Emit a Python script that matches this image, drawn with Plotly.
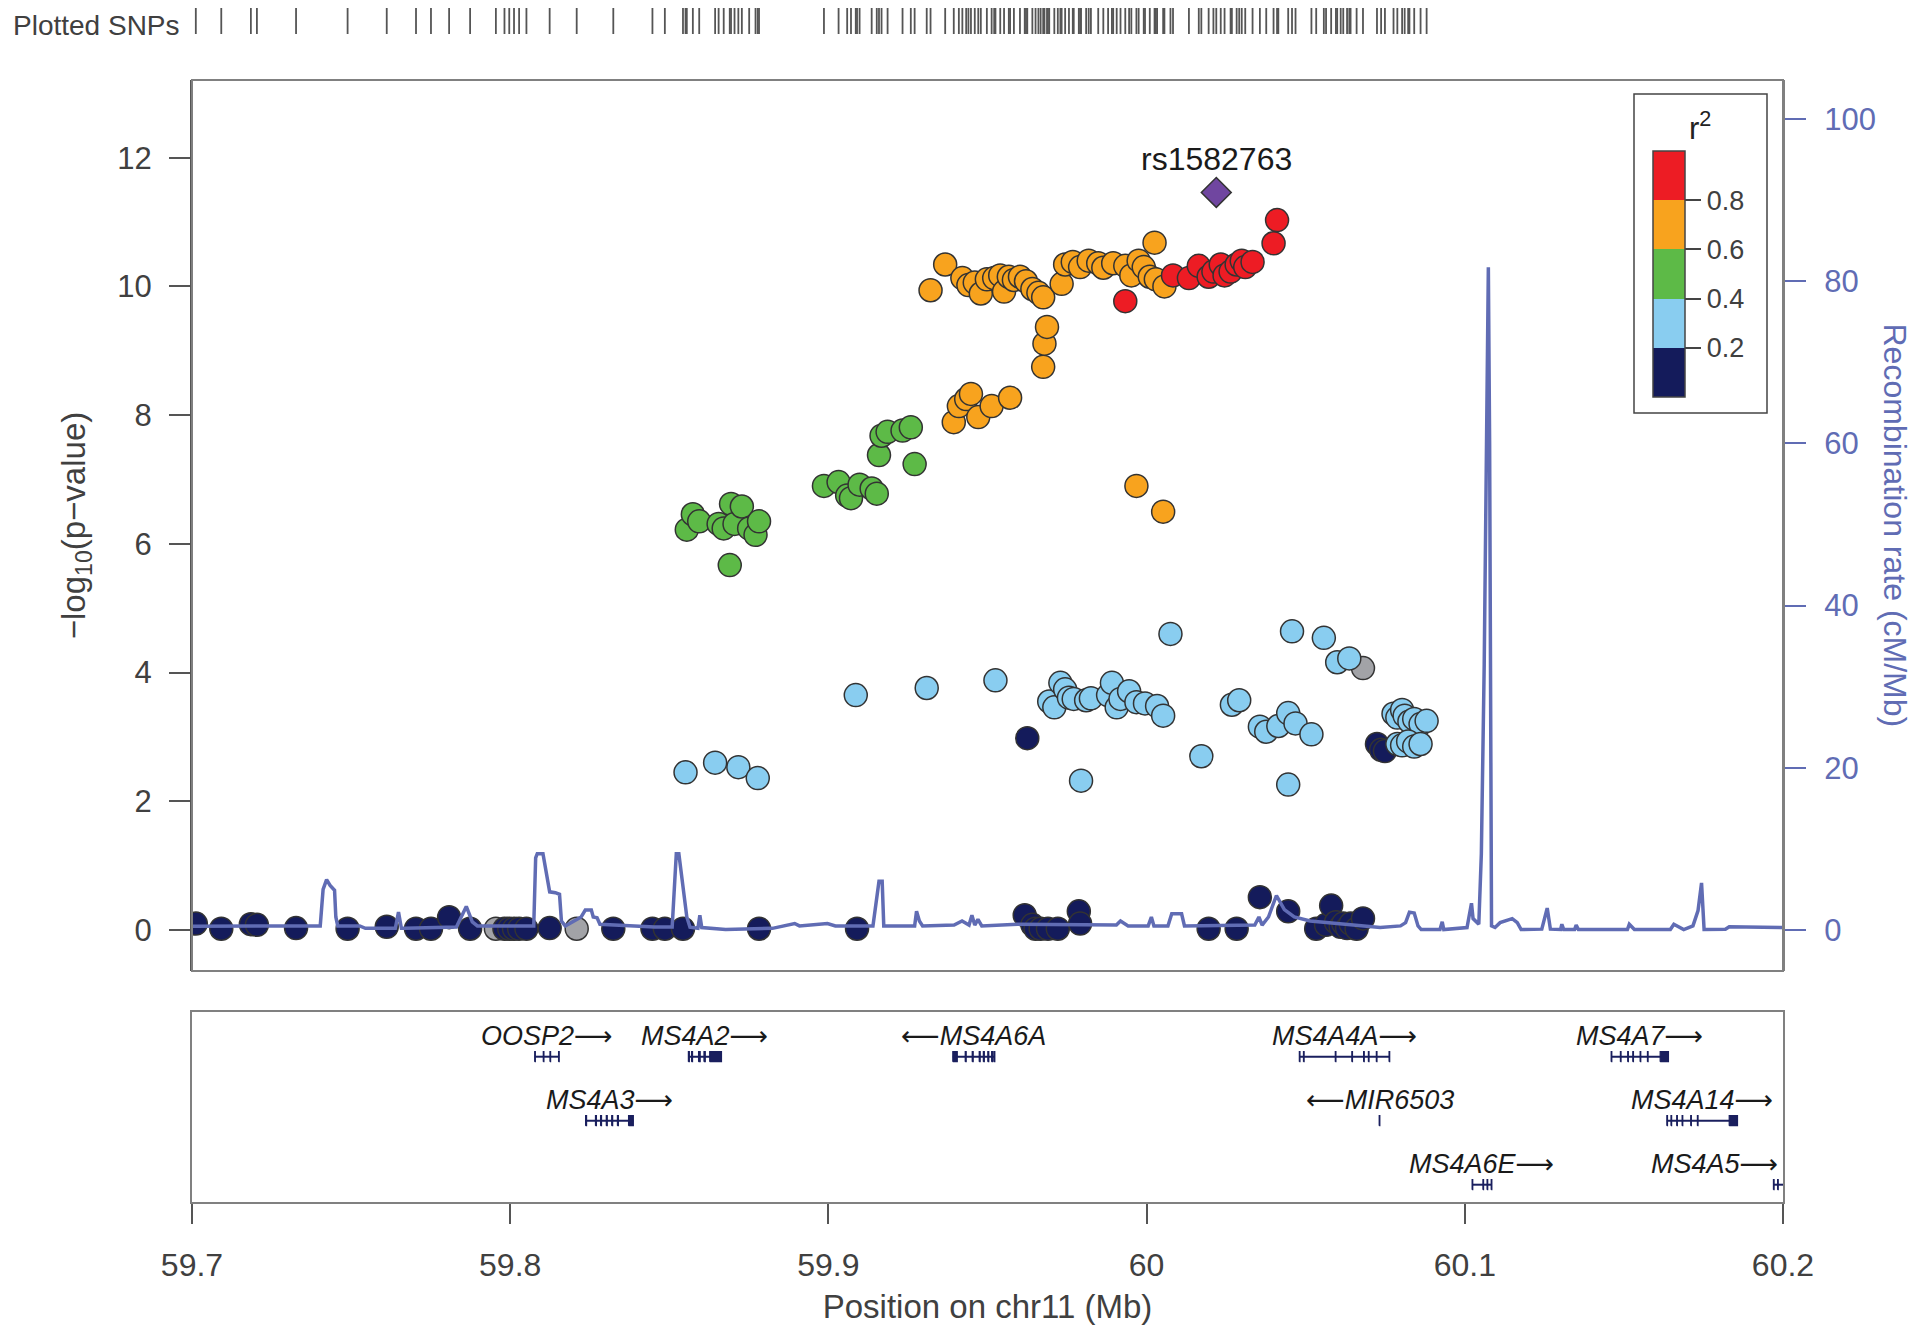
import plotly.graph_objects as go

# ------------------------------------------------------------------ data
# SNPs by LD bin with the lead SNP (position in Mb, -log10 p)
navy_pos = [59.7012, 59.7092, 59.7185, 59.7204, 59.7327, 59.7489, 59.7612, 59.7704, 59.7751,
            59.7808, 59.7874, 59.7982, 59.7997, 59.8012, 59.8028, 59.8051, 59.8124, 59.8324,
            59.8447, 59.8486, 59.8543, 59.8782, 59.9090, 59.9617, 59.9625, 59.9641, 59.9651,
            59.9667, 59.9690, 59.9721, 59.9787, 59.9791, 60.0195, 60.0283, 60.0356, 60.0445,
            60.0533, 60.0564, 60.0580, 60.0595, 60.0610, 60.0618, 60.0630, 60.0641, 60.0660,
            60.0680, 60.0724, 60.0737, 60.0749]
navy_logp = [0.10, 0.02, 0.09, 0.08, 0.03, 0.02, 0.05, 0.02, 0.02,
             0.20, 0.02, 0.02, 0.02, 0.02, 0.02, 0.02, 0.03, 0.02,
             0.02, 0.02, 0.02, 0.02, 0.02, 0.23, 2.98, 0.08, 0.02,
             0.02, 0.02, 0.02, 0.29, 0.10, 0.02, 0.02, 0.51, 0.29,
             0.02, 0.08, 0.38, 0.12, 0.05, 0.10, 0.03, 0.10, 0.02,
             0.18, 2.89, 2.80, 2.78]

lblue_pos = [59.8551, 59.8644, 59.8717, 59.8778, 59.9086, 59.9309, 59.9525, 59.9694, 59.9710,
             59.9729, 59.9744, 59.9756, 59.9771, 59.9794, 59.9810, 59.9825, 59.9879, 59.9891,
             59.9906, 59.9918, 59.9945, 59.9968, 59.9995, 60.0033, 60.0052, 60.0075, 60.0172,
             60.0268, 60.0291, 60.0356, 60.0376, 60.0414, 60.0445, 60.0445, 60.0457, 60.0468,
             60.0518, 60.0557, 60.0599, 60.0637, 60.0776, 60.0788, 60.0803, 60.0811, 60.0826,
             60.0841, 60.0861, 60.0880, 60.0788, 60.0803, 60.0822, 60.0841, 60.0861]
lblue_logp = [2.45, 2.60, 2.53, 2.36, 3.65, 3.76, 3.88, 3.55, 3.46,
              3.84, 3.74, 3.61, 3.59, 2.32, 3.57, 3.60, 3.65, 3.84,
              3.46, 3.59, 3.71, 3.54, 3.52, 3.48, 3.33, 4.60, 2.70,
              3.50, 3.57, 3.16, 3.08, 3.17, 3.37, 2.26, 4.64, 3.21,
              3.04, 4.54, 4.16, 4.22, 3.36, 3.30, 3.42, 3.33, 3.24,
              3.28, 3.20, 3.25, 2.89, 2.87, 2.93, 2.85, 2.89]

green_pos = [59.8555, 59.8574, 59.8594, 59.8655, 59.8671, 59.8690, 59.8694, 59.8705, 59.8728,
             59.8751, 59.8771, 59.8782, 59.8986, 59.9032, 59.9059, 59.9071, 59.9098, 59.9136,
             59.9152, 59.9159, 59.9167, 59.9186, 59.9233, 59.9259, 59.9271]
green_logp = [6.22, 6.46, 6.35, 6.31, 6.24, 5.67, 6.62, 6.31, 6.58,
              6.24, 6.14, 6.35, 6.90, 6.96, 6.75, 6.71, 6.92, 6.86,
              6.78, 7.38, 7.68, 7.74, 7.76, 7.81, 7.24]

orange_pos = [59.9321, 59.9367, 59.9394, 59.9410, 59.9421, 59.9433, 59.9440, 59.9448, 59.9460,
              59.9471, 59.9479, 59.9498, 59.9513, 59.9521, 59.9540, 59.9552, 59.9567, 59.9571,
              59.9583, 59.9602, 59.9621, 59.9641, 59.9660, 59.9675, 59.9675, 59.9679, 59.9687,
              59.9733, 59.9744, 59.9768, 59.9791, 59.9818, 59.9848, 59.9864, 59.9895, 59.9933,
              59.9952, 59.9968, 59.9975, 59.9991, 60.0010, 60.0025, 60.0029, 60.0052, 60.0056]
orange_logp = [9.94, 10.34, 7.89, 8.14, 10.13, 8.25, 10.02, 8.33, 10.06,
               7.97, 9.89, 10.11, 8.14, 10.13, 10.17, 9.92, 10.15, 8.27,
               10.10, 10.15, 10.08, 9.96, 9.90, 9.83, 8.75, 9.11, 9.37,
               10.04, 10.34, 10.38, 10.30, 10.40, 10.36, 10.29, 10.36, 10.32,
               10.17, 6.90, 10.40, 10.30, 10.15, 10.68, 10.11, 6.50, 10.00]

red_pos = [59.9933, 60.0083, 60.0133, 60.0164, 60.0195, 60.0210, 60.0233, 60.0245, 60.0264,
           60.0283, 60.0299, 60.0310, 60.0333, 60.0399, 60.0410]
red_logp = [9.77, 10.17, 10.13, 10.32, 10.15, 10.23, 10.34, 10.17, 10.23,
            10.34, 10.40, 10.30, 10.38, 10.67, 11.03]

grey_pos = [59.7955, 59.8209, 60.0680]
grey_logp = [0.02, 0.02, 4.07]

lead_snp = "rs1582763"
lead_pos = 60.0219
lead_logp = 11.46

# LD bins: representative r2 of each bin, and colours
bin_r2 = [0.1, 0.3, 0.5, 0.7, 0.9]
bin_colors = ["#141B5B", "#89CDF0", "#5DBA47", "#F8A31E", "#ED1C24"]
r2_ticks = [0.2, 0.4, 0.6, 0.8]

# recombination rate (position Mb, cM/Mb)
rec_pos = [59.7000, 59.7403, 59.7412, 59.7423, 59.7434, 59.7448, 59.7452, 59.7458, 59.7527,
           59.7545, 59.7608, 59.7639, 59.7649, 59.7658, 59.7670, 59.7831, 59.7862, 59.7881,
           59.7897, 59.8074, 59.8080, 59.8085, 59.8103, 59.8124, 59.8142, 59.8155, 59.8161,
           59.8173, 59.8223, 59.8236, 59.8255, 59.8261, 59.8273, 59.8282, 59.8453, 59.8509,
           59.8522, 59.8530, 59.8555, 59.8565, 59.8590, 59.8596, 59.8602, 59.8677, 59.8824,
           59.8894, 59.8909, 59.8997, 59.9022, 59.9140, 59.9159, 59.9169, 59.9174, 59.9271,
           59.9277, 59.9286, 59.9296, 59.9395, 59.9420, 59.9442, 59.9451, 59.9460, 59.9470,
           59.9482, 59.9594, 59.9905, 59.9918, 59.9942, 60.0005, 60.0015, 60.0023, 60.0067,
           60.0079, 60.0110, 60.0119, 60.0340, 60.0353, 60.0363, 60.0383, 60.0408, 60.0433,
           60.0464, 60.0514, 60.0734, 60.0798, 60.0814, 60.0826, 60.0841, 60.0853, 60.0863,
           60.0922, 60.0929, 60.0934, 60.1007, 60.1021, 60.1026, 60.1044, 60.1052, 60.1061,
           60.1069, 60.1074, 60.1078, 60.1084, 60.1095, 60.1111, 60.1149, 60.1165, 60.1177,
           60.1242, 60.1259, 60.1269, 60.1301, 60.1305, 60.1311, 60.1345, 60.1350, 60.1357,
           60.1511, 60.1517, 60.1533, 60.1646, 60.1657, 60.1679, 60.1688, 60.1717, 60.1733,
           60.1744, 60.1752, 60.1819, 60.1831, 60.2004]
rec_rate = [0.45, 0.5, 5.0, 6.2, 5.5, 4.9, 1.6, 0.5, 0.5,
            0.2, 0.2, 0.2, 2.2, 0.2, 0.2, 0.35, 2.9, 1.0,
            0.5, 0.5, 8.9, 9.4, 9.4, 4.7, 4.6, 4.4, 1.1,
            0.5, 1.6, 2.45, 2.45, 1.6, 1.5, 0.7, 0.35, 0.35,
            9.4, 9.4, 1.6, 0.35, 0.2, 1.8, 0.3, 0.05, 0.2,
            0.8, 0.5, 0.8, 0.5, 0.5, 6.0, 6.0, 0.5, 0.5,
            2.3, 1.1, 0.5, 0.6, 1.1, 0.6, 1.8, 0.6, 1.3,
            0.5, 0.7, 0.6, 1.1, 0.5, 0.5, 1.6, 0.5, 0.5,
            2.0, 2.0, 0.5, 0.6, 1.6, 0.6, 1.6, 4.25, 2.5,
            1.6, 1.1, 0.3, 0.5, 0.9, 2.2, 2.1, 0.5, 0.05,
            0.05, 1.0, 0.05, 0.3, 3.3, 1.4, 0.7, 9.4, 32.7,
            60.0, 81.7, 60.0, 0.5, 0.3, 0.9, 1.4, 0.9, 0.05,
            0.1, 2.7, 0.1, 0.05, 0.7, 0.05, 0.05, 0.6, 0.05,
            0.05, 0.7, 0.05, 0.05, 0.7, 0.3, 0.05, 0.5, 2.4,
            5.8, 0.05, 0.1, 0.4, 0.3]

# genes
gene_names = ["OOSP2", "MS4A2", "MS4A6A", "MS4A4A", "MS4A7", "MS4A3", "MIR6503", "MS4A14",
              "MS4A6E", "MS4A5"]
gene_strand = ["+", "+", "-", "+", "+", "+", "-", "+", "+", "+"]
gene_row = [0, 0, 0, 0, 0, 1, 1, 1, 2, 2]
gene_start = [59.8077, 59.8560, 59.9391, 60.0480, 60.1460, 59.8237, 60.0731, 60.1635,
              60.1023, 60.1970]
gene_end = [59.8154, 59.8664, 59.9523, 60.0764, 60.1640, 59.8387, 60.0733, 60.1857,
            60.1085, 60.2050]
gene_exons = [
    [(59.8077, 59.8079), (59.8104, 59.8106), (59.8125, 59.8127), (59.8152, 59.8154)],
    [(59.8560, 59.8563), (59.8570, 59.8573), (59.8592, 59.8597), (59.8609, 59.8613),
     (59.8627, 59.8664)],
    [(59.9391, 59.9405), (59.9430, 59.9433), (59.9452, 59.9455), (59.9474, 59.9477),
     (59.9487, 59.9490), (59.9501, 59.9504), (59.9513, 59.9516), (59.9520, 59.9523)],
    [(60.0480, 60.0482), (60.0493, 60.0495), (60.0593, 60.0595), (60.0645, 60.0647),
     (60.0682, 60.0684), (60.0697, 60.0699), (60.0722, 60.0724), (60.0762, 60.0764)],
    [(60.1460, 60.1462), (60.1489, 60.1491), (60.1512, 60.1514), (60.1528, 60.1530),
     (60.1551, 60.1553), (60.1574, 60.1576), (60.1614, 60.1640)],
    [(59.8237, 59.8240), (59.8268, 59.8271), (59.8284, 59.8287), (59.8302, 59.8305),
     (59.8319, 59.8322), (59.8337, 59.8340), (59.8372, 59.8387)],
    [(60.0731, 60.0733)],
    [(60.1635, 60.1637), (60.1648, 60.1650), (60.1666, 60.1668), (60.1683, 60.1685),
     (60.1710, 60.1712), (60.1731, 60.1733), (60.1831, 60.1857)],
    [(60.1023, 60.1025), (60.1057, 60.1059), (60.1070, 60.1072), (60.1083, 60.1085)],
    [(60.1970, 60.1972), (60.1983, 60.1985), (60.2030, 60.2050)],
]

x_ticks = [59.7, 59.8, 59.9, 60.0, 60.1, 60.2]
x_ticklabels = ["59.7", "59.8", "59.9", "60", "60.1", "60.2"]
y_ticks = [0, 2, 4, 6, 8, 10, 12]
rec_ticks = [0, 20, 40, 60, 80, 100]

# ------------------------------------------------------------------ style / layout
FONT = "Liberation Sans, Arial, Helvetica, sans-serif"
TXT = "#404040"
REC = "#606CB4"
FRAME = "#808080"
XMIN, XMAX = 59.7, 60.2
OFF = 8                      # default page margin of the html body
W, H = 1920 - 2 * OFF, 1333 - 2 * OFF
PLOT_L, PLOT_R, PLOT_B = 192, 1783, 1202   # page pixels of the plotting area
ML = PLOT_L - OFF
MR = W - (PLOT_R - OFF)
MT = 0
MB = H - (PLOT_B - OFF)
PH = H - MT - MB
PW = W - ML - MR


def py(px):  # page y pixel -> paper coordinate
    return min(1.0, max(0.0, 1 - (px - OFF - MT) / PH))


def pxx(px):  # page x pixel -> paper coordinate
    return (px - OFF - ML) / PW


colorscale = []
edges = [0.0, 0.2, 0.4, 0.6, 0.8, 1.0]
for i, c in enumerate(bin_colors):
    colorscale.append([edges[i], c])
    colorscale.append([edges[i + 1], c])

CB_TOP, CB_BOT, CB_L, CB_W = 151, 397, 1653, 32

fig = go.Figure()

# recombination rate
fig.add_trace(go.Scatter(x=rec_pos, y=rec_rate, mode="lines", xaxis="x", yaxis="y2",
                         line=dict(color=REC, width=3.5), hoverinfo="skip", showlegend=False))

# SNPs
outline = dict(color="#333333", width=1.5)
fig.add_trace(go.Scatter(x=grey_pos, y=grey_logp, mode="markers", xaxis="x", yaxis="y",
                         marker=dict(size=23, color="#A2A3A7", line=outline), showlegend=False))
bins = [(navy_pos, navy_logp), (lblue_pos, lblue_logp), (green_pos, green_logp),
        (orange_pos, orange_logp), (red_pos, red_logp)]
for i, (xs, ys) in enumerate(bins):
    last = i == len(bins) - 1
    mk = dict(size=23, color=[bin_r2[i]] * len(xs), colorscale=colorscale, cmin=0, cmax=1,
              line=outline, showscale=last)
    if last:
        mk["colorbar"] = dict(
            x=pxx(CB_L), xanchor="left", xpad=0, y=(py(CB_TOP) + py(CB_BOT)) / 2,
            yanchor="middle", ypad=0, len=CB_BOT - CB_TOP, lenmode="pixels",
            thickness=CB_W, thicknessmode="pixels",
            outlinecolor="#444444", outlinewidth=1.5, tickvals=r2_ticks,
            ticktext=[f"{t:.1f}" for t in r2_ticks], ticks="outside", ticklen=16,
            tickwidth=1.5, tickcolor="#444444", tickfont=dict(size=27, color=TXT, family=FONT),
            bgcolor="rgba(0,0,0,0)")
    fig.add_trace(go.Scatter(x=xs, y=ys, mode="markers", xaxis="x", yaxis="y", marker=mk,
                             showlegend=False))
fig.add_trace(go.Scatter(x=[lead_pos], y=[lead_logp], mode="markers", xaxis="x", yaxis="y",
                         marker=dict(symbol="diamond", size=23, color="#7046A0", line=outline),
                         showlegend=False))

# plotted SNP rug
all_pos = sorted(set(navy_pos + lblue_pos + green_pos + orange_pos + red_pos + grey_pos + [lead_pos]))
rx, ry = [], []
for p in all_pos:
    rx += [p, p, None]
    ry += [0, 1, None]
fig.add_trace(go.Scatter(x=rx, y=ry, mode="lines", xaxis="x", yaxis="y4",
                         line=dict(color="#555555", width=1.8), hoverinfo="skip", showlegend=False))

# genes (y3 in pixels above the panel bottom)
ROW0, ROWSTEP, EXH = 145.3, 64, 5
ARROW_R = '<span style="font-family:DejaVu Sans">⟶</span>'
ARROW_L = '<span style="font-family:DejaVu Sans">⟵</span>'
ix, iy, ex, ey = [], [], [], []
annotations = []
for name, strand, row, s, e, exons in zip(gene_names, gene_strand, gene_row, gene_start,
                                          gene_end, gene_exons):
    yc = ROW0 - ROWSTEP * row
    ix += [s, e, None]
    iy += [yc, yc, None]
    for a, b in exons:
        ex += [a, b, b, a, a, None]
        ey += [yc - EXH, yc - EXH, yc + EXH, yc + EXH, yc - EXH, None]
    label = f"<i>{name}</i>{ARROW_R}" if strand == "+" else f"{ARROW_L}<i>{name}</i>"
    center = (s + e) / 2
    half = (len(name) + 1.3) * 16.5 / 2 * (XMAX - XMIN) / PW
    if center + half > XMAX:
        lx, anc = XMAX - 0.0010, "right"
    else:
        lx, anc = center, "center"
    annotations.append(dict(x=lx, y=yc + 21.5, xref="x", yref="y3", text=label, showarrow=False,
                            xanchor=anc, yanchor="middle",
                            font=dict(size=27, color="#1a1a1a", family=FONT)))
fig.add_trace(go.Scatter(x=ix, y=iy, mode="lines", xaxis="x", yaxis="y3",
                         line=dict(color="#1A1F5E", width=2), hoverinfo="skip", showlegend=False))
fig.add_trace(go.Scatter(x=ex, y=ey, mode="lines", fill="toself", fillcolor="#1A1F5E",
                         xaxis="x", yaxis="y3", line=dict(color="#1A1F5E", width=1.2),
                         hoverinfo="skip", showlegend=False))

# lead SNP label
annotations.append(dict(x=lead_pos, y=lead_logp, xref="x", yref="y", text=lead_snp,
                        showarrow=False, yshift=33, xanchor="center", yanchor="middle",
                        font=dict(size=32, color="#1a1a1a", family=FONT)))
# Plotted SNPs label
annotations.append(dict(x=pxx(182), y=py(26), xref="paper", yref="paper", text="Plotted SNPs",
                        showarrow=False, xanchor="right", yanchor="middle",
                        font=dict(size=28, color=TXT, family=FONT)))
# right axis title
annotations.append(dict(x=pxx(1895), y=(py(80) + py(971)) / 2, xref="paper", yref="paper",
                        text="Recombination rate (cM/Mb)", textangle=90, showarrow=False,
                        xanchor="center", yanchor="middle",
                        font=dict(size=32, color=REC, family=FONT)))
# legend title
annotations.append(dict(x=pxx(1700), y=py(126), xref="paper", yref="paper",
                        text="r<sup>2</sup>", showarrow=False, xanchor="center",
                        yanchor="middle", font=dict(size=31, color="#222222", family=FONT)))

shapes = [
    dict(type="rect", xref="x domain", yref="y domain", x0=0, x1=1, y0=0, y1=1,
         line=dict(color=FRAME, width=2), layer="above"),
    dict(type="rect", xref="paper", yref="paper", x0=pxx(1634), x1=pxx(1767), y0=py(413),
         y1=py(94), line=dict(color="#444444", width=1.5), fillcolor="rgba(0,0,0,0)",
         layer="above"),
]
for t in r2_ticks:
    yy = py(CB_BOT) + t * (py(CB_TOP) - py(CB_BOT))
    shapes.append(dict(type="line", xref="paper", yref="paper", x0=pxx(CB_L), x1=pxx(CB_L + CB_W),
                       y0=yy, y1=yy, line=dict(color="#555555", width=1.5), layer="above"))

y_main = [py(971), py(80)]
# y ranges chosen so that 0 aligns on both axes
y_range = [-0.637, 13.207]
rec_range = [-5.06, 104.8]

fig.update_layout(
    width=W, height=H, margin=dict(l=ML, r=MR, t=MT, b=MB),
    paper_bgcolor="white", plot_bgcolor="white",
    font=dict(family=FONT, color=TXT),
    showlegend=False,
    xaxis=dict(domain=[0, 1], range=[XMIN, XMAX], anchor="y3", tickvals=x_ticks,
               ticktext=x_ticklabels, ticks="outside", ticklen=20, tickwidth=2,
               tickcolor="#555555", showline=True, mirror=True, linecolor=FRAME, linewidth=2,
               ticklabelstandoff=14,
               showgrid=False, zeroline=False, tickfont=dict(size=32, color=TXT),
               title=dict(text="Position on chr11 (Mb)", font=dict(size=33, color=TXT),
                          standoff=16)),
    yaxis=dict(domain=y_main, range=y_range, anchor="x", tickvals=y_ticks, ticks="outside",
               ticklen=21, tickwidth=2, tickcolor="#555555", showline=True, linecolor="#555555",
               linewidth=2, showgrid=False, zeroline=False, tickfont=dict(size=31, color=TXT),
               ticklabelstandoff=11,
               title=dict(text="−log<sub>10</sub>(p−value)", font=dict(size=33, color=TXT),
                          standoff=22)),
    yaxis2=dict(overlaying="y", side="right", anchor="x", range=rec_range, tickvals=rec_ticks,
                ticks="outside", ticklen=21, tickwidth=2, tickcolor=REC, showline=True,
                linecolor=FRAME, linewidth=2, showgrid=False, zeroline=False,
                ticklabelstandoff=12,
                tickfont=dict(size=31, color=REC)),
    yaxis3=dict(domain=[0, py(1012)], range=[0, 190], anchor="x", showticklabels=False,
                ticks="", showline=True, mirror=True, linecolor=FRAME, linewidth=2,
                showgrid=False, zeroline=False, fixedrange=True),
    yaxis4=dict(domain=[py(34), py(3)], range=[0, 1], anchor="x", visible=False,
                showgrid=False, zeroline=False),
    annotations=annotations,
    shapes=shapes,
)

fig.write_html("out.html")
